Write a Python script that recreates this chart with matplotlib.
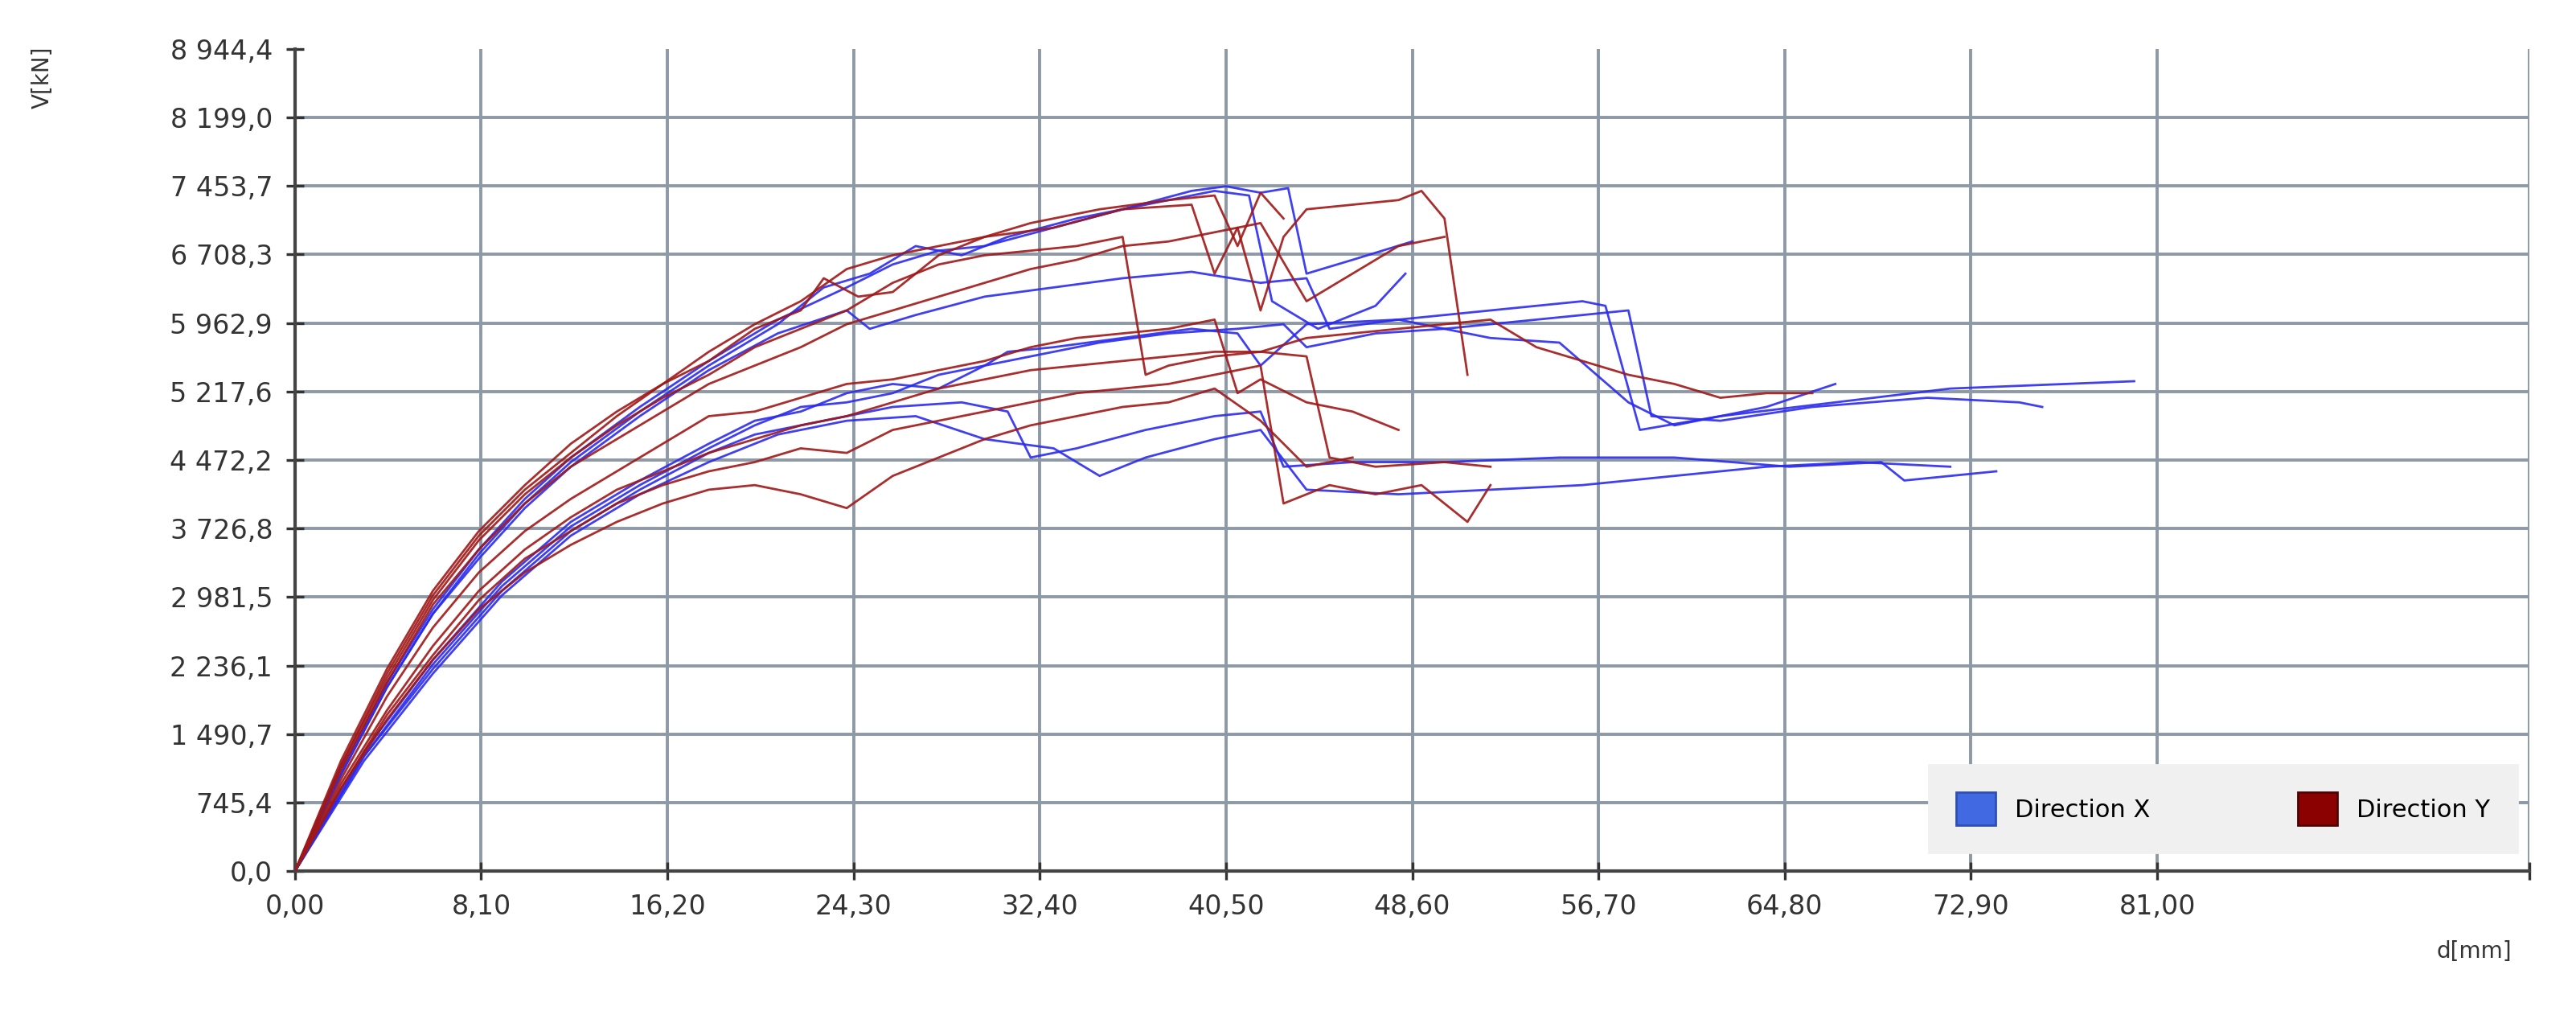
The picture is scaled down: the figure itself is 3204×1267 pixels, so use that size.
import matplotlib
matplotlib.use("Agg")
import matplotlib.pyplot as plt
from matplotlib.patches import Patch

# ---- data: (d [mm], V [kN]) ----
blue_curves = [
    ([0, 2, 4, 6, 8, 10, 12, 15, 18, 21, 24, 26, 28, 30, 33, 36, 39, 40.5, 42, 43.2, 44, 46, 48.6],
     [0, 1100, 2050, 2850, 3500, 4050, 4500, 5050, 5550, 6000, 6350, 6600, 6750, 6800, 7000, 7200, 7400, 7450, 7380, 7430, 6500, 6650, 6850]),
    ([0, 2, 4, 6, 8, 10, 12, 15, 18, 21, 23, 25, 27, 29, 31, 34, 37, 40, 41.5, 42.5, 44.5, 47, 48.3],
     [0, 1050, 2000, 2800, 3450, 4000, 4450, 5000, 5500, 5950, 6350, 6500, 6800, 6700, 6900, 7100, 7250, 7400, 7350, 6200, 5900, 6150, 6500]),
    ([0, 2, 4, 6, 8, 10, 12, 15, 18, 21, 24, 25, 27, 30, 33, 36, 39, 42, 44, 45, 48, 52, 56, 57, 58.5, 62, 67, 72, 77, 80],
     [0, 1050, 2000, 2800, 3400, 3950, 4400, 4950, 5450, 5850, 6100, 5900, 6050, 6250, 6350, 6450, 6520, 6400, 6450, 5900, 6000, 6100, 6200, 6150, 4800, 4950, 5100, 5250, 5300, 5330]),
    ([0, 3, 6, 9, 12, 15, 18, 20, 22, 24, 26, 28, 30, 32, 35, 38, 41, 43, 44, 47, 50, 54, 58, 59, 62, 66, 71, 75, 76],
     [0, 1300, 2300, 3150, 3800, 4250, 4650, 4900, 5000, 5200, 5300, 5250, 5500, 5600, 5750, 5850, 5900, 5950, 5700, 5850, 5900, 6000, 6100, 4950, 4900, 5050, 5150, 5100, 5050]),
    ([0, 3, 6, 9, 12, 15, 18, 20, 22, 24, 26, 28, 30, 31, 33, 36, 39, 41, 42, 44, 48, 52, 55, 58, 60, 64, 67],
     [0, 1250, 2250, 3100, 3750, 4200, 4600, 4850, 5050, 5100, 5200, 5400, 5500, 5650, 5700, 5800, 5900, 5850, 5500, 5950, 6000, 5800, 5750, 5100, 4850, 5050, 5300]),
    ([0, 3, 6, 9, 12, 15, 18, 20, 23, 26, 29, 31, 32, 34, 37, 40, 42, 43, 46, 50, 55, 60, 65, 69, 70, 72, 74],
     [0, 1250, 2200, 3050, 3700, 4150, 4550, 4750, 4900, 5050, 5100, 5000, 4500, 4600, 4800, 4950, 5000, 4400, 4450, 4450, 4500, 4500, 4400, 4450, 4250, 4300, 4350]),
    ([0, 3, 6, 9, 12, 15, 18, 21, 24, 27, 30, 33, 35, 37, 40, 42, 44, 48, 52, 56, 60, 64, 68, 72],
     [0, 1200, 2150, 3000, 3650, 4100, 4450, 4750, 4900, 4950, 4700, 4600, 4300, 4500, 4700, 4800, 4150, 4100, 4150, 4200, 4300, 4400, 4450, 4400]),
]

red_curves = [
    ([0, 2, 4, 6, 8, 10, 12, 14, 16, 18, 20, 22, 24, 26, 28, 30, 32, 35, 38, 40, 41, 42, 43],
     [0, 1200, 2200, 3050, 3700, 4200, 4650, 5000, 5300, 5650, 5950, 6200, 6550, 6700, 6800, 6900, 7050, 7200, 7300, 7350, 6800, 7380, 7100]),
    ([0, 2, 4, 6, 8, 10, 12, 14, 16, 18, 20, 22, 23, 24.5, 26, 28, 30, 33, 36, 39, 40, 41, 42, 43, 44, 46, 48, 49, 50, 51],
     [0, 1150, 2150, 3000, 3650, 4150, 4550, 4950, 5300, 5550, 5900, 6100, 6450, 6250, 6300, 6700, 6900, 7000, 7200, 7250, 6500, 7000, 6100, 6900, 7200, 7250, 7300, 7400, 7100, 5400]),
    ([0, 2, 4, 6, 8, 10, 12, 14, 16, 18, 20, 22, 24, 26, 28, 30, 32, 34, 36, 37, 38, 40, 42, 44, 46, 48, 50, 52, 54, 56, 58, 60, 62, 64, 66],
     [0, 1150, 2100, 2950, 3600, 4100, 4500, 4850, 5150, 5400, 5700, 5900, 6100, 6400, 6600, 6700, 6750, 6800, 6900, 5400, 5500, 5600, 5650, 5800, 5850, 5900, 5950, 6000, 5700, 5550, 5400, 5300, 5150, 5200, 5200]),
    ([0, 2, 4, 6, 8, 10, 12, 14, 16, 18, 20, 22, 24, 26, 28, 30, 32, 34, 36, 38, 40, 42, 44, 46, 48, 50],
     [0, 1100, 2050, 2900, 3500, 4000, 4400, 4700, 5000, 5300, 5500, 5700, 5950, 6100, 6250, 6400, 6550, 6650, 6800, 6850, 6950, 7050, 6200, 6500, 6800, 6900]),
    ([0, 2, 4, 6, 8, 10, 12, 14, 16, 18, 20, 22, 24, 26, 28, 30, 32, 34, 36, 38, 40, 42, 44, 45, 47, 50, 52],
     [0, 950, 1750, 2450, 3050, 3500, 3850, 4150, 4350, 4550, 4700, 4850, 4950, 5100, 5250, 5350, 5450, 5500, 5550, 5600, 5650, 5650, 5600, 4500, 4400, 4450, 4400]),
    ([0, 2, 4, 6, 8, 10, 12, 14, 16, 18, 20, 22, 24, 26, 28, 30, 32, 34, 36, 38, 40, 42, 43, 45, 47, 49, 51, 52],
     [0, 900, 1700, 2350, 2950, 3400, 3700, 4000, 4200, 4350, 4450, 4600, 4550, 4800, 4900, 5000, 5100, 5200, 5250, 5300, 5400, 5500, 4000, 4200, 4100, 4200, 3800, 4200]),
    ([0, 2, 4, 6, 8, 10, 12, 14, 16, 18, 20, 22, 24, 26, 28, 30, 32, 34, 36, 38, 40, 42, 44, 46],
     [0, 900, 1650, 2300, 2850, 3250, 3550, 3800, 4000, 4150, 4200, 4100, 3950, 4300, 4500, 4700, 4850, 4950, 5050, 5100, 5250, 4900, 4400, 4500]),
    ([0, 2, 4, 6, 8, 10, 12, 14, 16, 18, 20, 22, 24, 26, 28, 30, 32, 34, 36, 38, 40, 41, 42, 44, 46, 48],
     [0, 1000, 1900, 2650, 3250, 3700, 4050, 4350, 4650, 4950, 5000, 5150, 5300, 5350, 5450, 5550, 5700, 5800, 5850, 5900, 6000, 5200, 5350, 5100, 5000, 4800]),
]

x_ticks = [0.0, 8.1, 16.2, 24.3, 32.4, 40.5, 48.6, 56.7, 64.8, 72.9, 81.0]
x_max = 97.2
y_ticks = [0.0, 745.4, 1490.7, 2236.1, 2981.5, 3726.8, 4472.2, 5217.6, 5962.9,
           6708.3, 7453.7, 8199.0, 8944.4]
legend_labels = ["Direction X", "Direction Y"]

BLUE = "#2b2bf0"
RED = "#a01818"

fig = plt.figure(figsize=(16.02, 6.335), dpi=200)
ax = fig.add_axes([0.1145, 0.145, 0.8675, 0.807])

for xs, ys in blue_curves:
    ax.plot(xs, ys, color=BLUE, lw=1.0, alpha=0.9, zorder=3)
for xs, ys in red_curves:
    ax.plot(xs, ys, color=RED, lw=1.0, alpha=0.9, zorder=3)

ax.set_xlim(0, x_max)
ax.set_ylim(0, y_ticks[-1])
ax.set_xticks(x_ticks + [x_max])
ax.set_xticklabels([f"{v:.2f}".replace(".", ",") for v in x_ticks] + [""])

def yfmt(v):
    s = f"{v:,.1f}"
    return s.replace(",", " ").replace(".", ",")

ax.set_yticks(y_ticks)
ax.set_yticklabels([yfmt(v) for v in y_ticks])
ax.tick_params(axis="both", direction="inout", length=8, width=1.2, labelsize=12,
               colors="#333333", pad=6)
ax.grid(True, color="#8d99a6", lw=1.4, zorder=0)
ax.get_ygridlines()[-1].set_visible(False)
for s in ["top", "right"]:
    ax.spines[s].set_visible(False)
for s in ["left", "bottom"]:
    ax.spines[s].set_color("#444444")
    ax.spines[s].set_linewidth(1.5)

fig.text(0.012, 0.955, "V[kN]", rotation=90, fontsize=10, color="#333333", va="top")
fig.text(0.975, 0.06, "d[mm]", fontsize=10, color="#333333", ha="right")

handles = [Patch(facecolor="#4169e1", edgecolor="#3050b0"),
           Patch(facecolor="#8b0000", edgecolor="#500000")]
leg = ax.legend(handles, legend_labels, loc="lower right", ncol=2, fontsize=11,
                frameon=True, fancybox=False, facecolor="#f0f0f0", edgecolor="#f0f0f0",
                framealpha=1, columnspacing=6, handlelength=1.6, handleheight=1.7,
                borderpad=1.1, bbox_to_anchor=(1.0, 0.008))
leg.set_zorder(5)

fig.savefig("out.png", dpi=200, facecolor="white")
